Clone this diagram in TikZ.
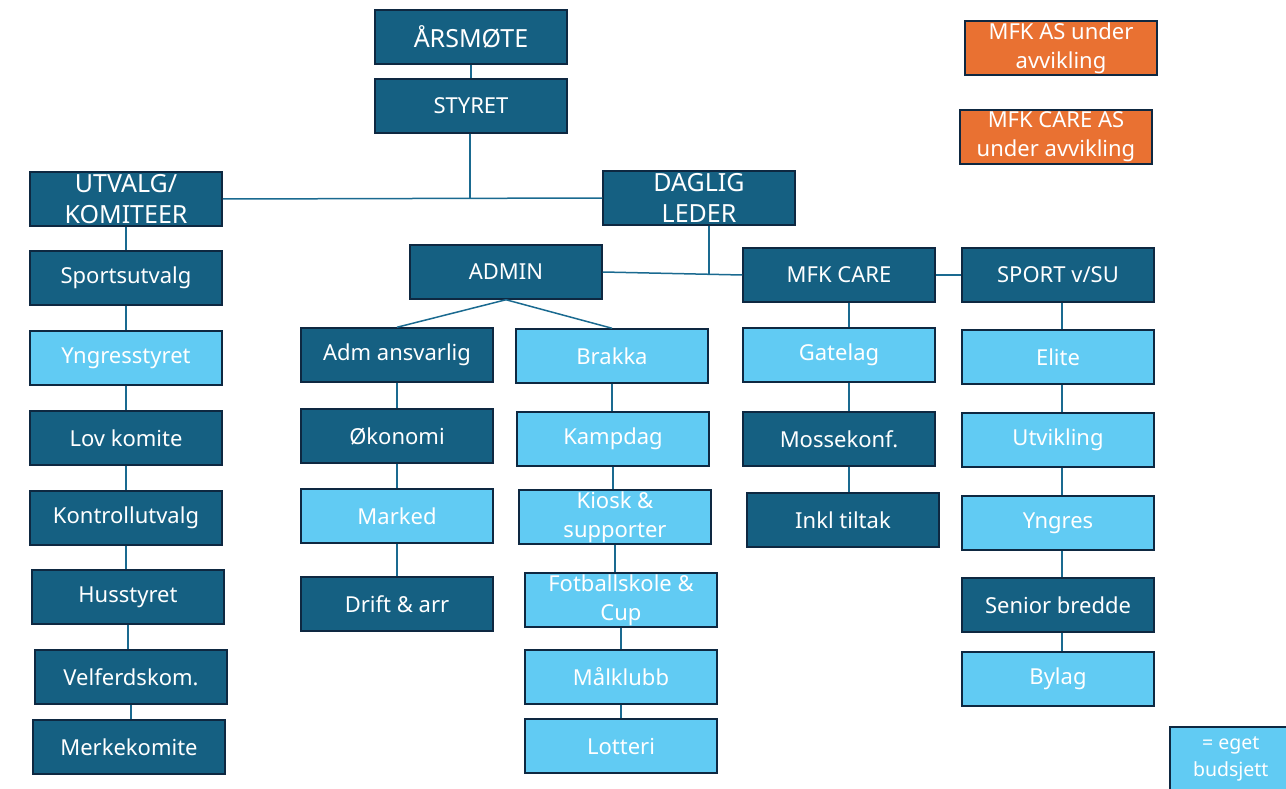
\documentclass[tikz,border=0pt]{standalone}
\usepackage{fontspec}
\setmainfont{Noto Sans}
\definecolor{dk}{HTML}{156082}
\definecolor{lt}{HTML}{61CBF3}
\definecolor{bd}{HTML}{0E2841}
\definecolor{og}{HTML}{E97132}
\definecolor{ln}{HTML}{1A6A90}
\begin{document}
\begin{tikzpicture}[x=1pt,y=-1pt,
  box/.style={draw=bd,line width=1.5pt,minimum width=192pt,minimum height=54pt,inner sep=0pt,
    text=white,font=\fontsize{22}{29}\selectfont,align=center},
  big/.style={font=\fontsize{25}{31}\selectfont},
  dbox/.style={box,fill=dk},
  lbox/.style={box,fill=lt},
  obox/.style={box,fill=og,minimum height=54pt},
  con/.style={draw=ln,line width=1.5pt}]
\useasboundingbox (0,0) rectangle (1286,789);
% top
\node[dbox,big] (ars) at (471,37) {ÅRSMØTE};
\node[dbox] (sty) at (471,106) {STYRET};
\node[dbox,big] (utv) at (126,199) {UTVALG/\\KOMITEER};
\node[dbox,big] (dag) at (699,198) {DAGLIG\\LEDER};
\node[dbox] (adm) at (506,272) {ADMIN};
\node[dbox] (care) at (839,275) {MFK CARE};
\node[dbox] (sport) at (1058,275) {SPORT v/SU};
\node[obox] (mfkas) at (1061,48) {MFK AS under\\avvikling};
\node[obox] (mfkcare) at (1056,137) {MFK CARE AS\\under avvikling};
% left column
\node[dbox] (l1) at (126,278) {Sportsutvalg};
\node[lbox] (l2) at (126,358) {Yngresstyret};
\node[dbox] (l3) at (126,438) {Lov komite};
\node[dbox] (l4) at (126,518) {Kontrollutvalg};
\node[dbox] (l5) at (128,597) {Husstyret};
\node[dbox] (l6) at (131,677) {Velferdskom.};
\node[dbox] (l7) at (129,747) {Merkekomite};
% admin col 1
\node[dbox] (a1) at (397,355) {Adm ansvarlig};
\node[dbox] (a2) at (397,436) {Økonomi};
\node[lbox] (a3) at (397,516) {Marked};
\node[dbox] (a4) at (397,604) {Drift \& arr};
% admin col 2
\node[lbox] (b1) at (612,356) {Brakka};
\node[lbox] (b2) at (613,439) {Kampdag};
\node[lbox] (b3) at (615,517) {Kiosk \&\\supporter};
\node[lbox] (b4) at (621,600) {Fotballskole \&\\Cup};
\node[lbox] (b5) at (621,677) {Målklubb};
\node[lbox] (b6) at (621,746) {Lotteri};
% care column
\node[lbox] (c1) at (839,355) {Gatelag};
\node[dbox] (c2) at (839,439) {Mossekonf.};
\node[dbox] (c3) at (843,520) {Inkl tiltak};
% sport column
\node[lbox] (s1) at (1058,357) {Elite};
\node[lbox] (s2) at (1058,440) {Utvikling};
\node[lbox] (s3) at (1058,523) {Yngres};
\node[dbox] (s4) at (1058,605) {Senior bredde};
\node[lbox] (s5) at (1058,679) {Bylag};
% legend
\node[lbox,minimum width=122pt,minimum height=64pt,font=\fontsize{19.5}{27}\selectfont,anchor=north west] (leg) at (1169,726) {= eget\\budsjett};
% connectors
\coordinate (j1) at (470,198);
\coordinate (j2) at (709,274);
\coordinate (cx) at (849,0);
\coordinate (sx) at (1062,0);
\draw[con] (ars.south) -- (sty.north);
\draw[con] (utv.east) -- (dag.west);
\draw[con] (j1 |- sty.south) -- (j1);
\draw[con] (adm.east) -- (care.west);
\draw[con] (j2 |- dag.south) -- (j2);
\draw[con] (care.east) -- (sport.west);
\draw[con] (adm.south) -- (a1.north);
\draw[con] (adm.south) -- (b1.north);
\draw[con] (utv.south) -- (utv.south |- l1.north);
\foreach \a/\b in {l1/l2,l2/l3,l3/l4,l4/l5,l5/l6,l6/l7,a1/a2,a2/a3,a3/a4,b1/b2,b2/b3,b3/b4,b4/b5,b5/b6}
  \draw[con] (\a.south) -- (\a.south |- \b.north);
\foreach \a/\b in {care/c1,c1/c2,c2/c3}
  \draw[con] (cx |- \a.south) -- (cx |- \b.north);
\foreach \a/\b in {sport/s1,s1/s2,s2/s3,s3/s4,s4/s5}
  \draw[con] (sx |- \a.south) -- (sx |- \b.north);
\end{tikzpicture}
\end{document}
